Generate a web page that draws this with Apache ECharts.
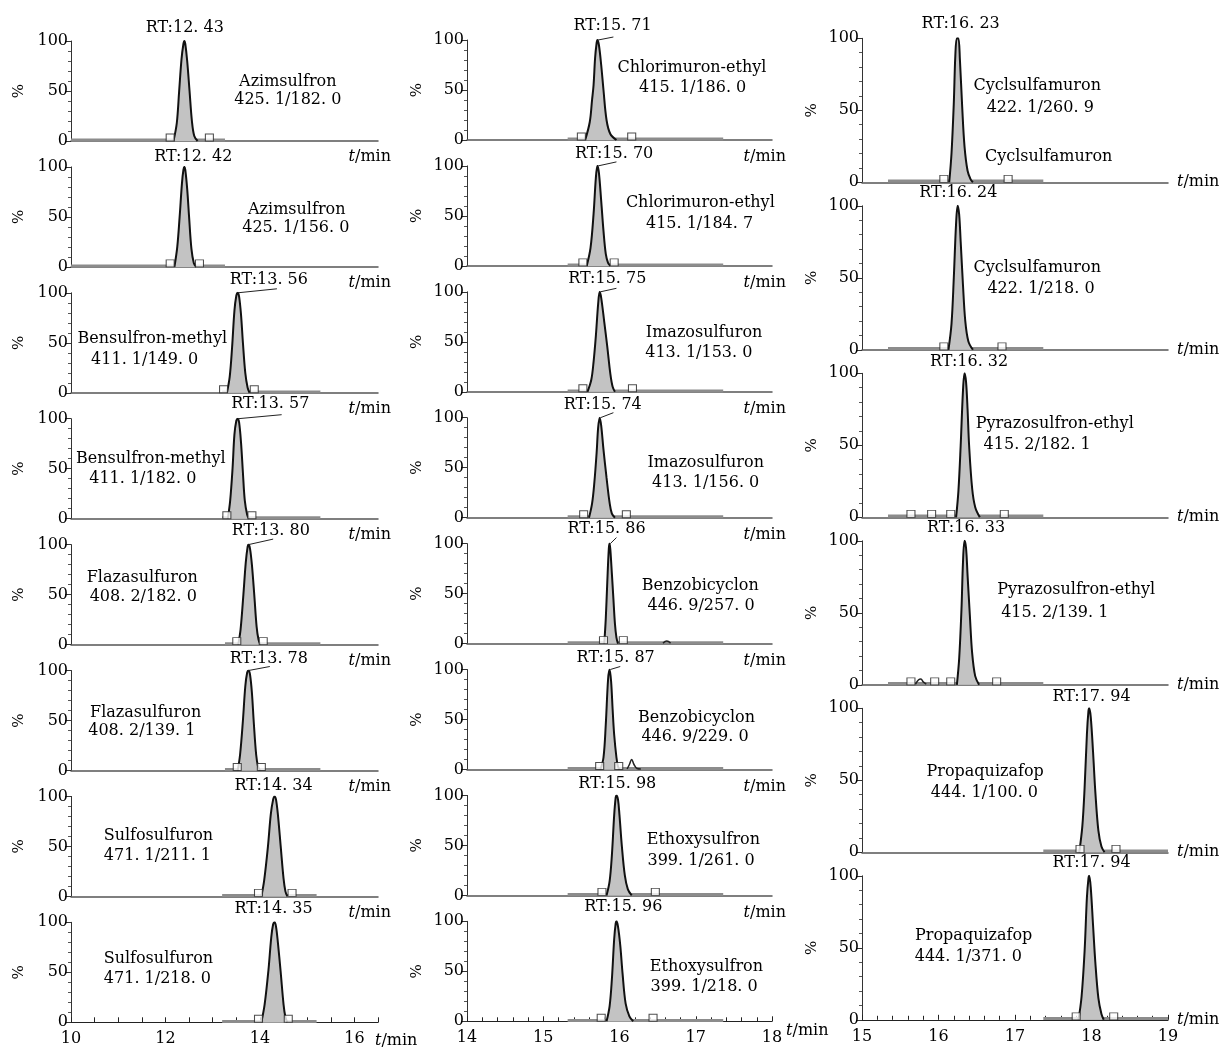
<!DOCTYPE html>
<html><head><meta charset="utf-8">
<script src="https://cdn.jsdelivr.net/npm/echarts@6/dist/echarts.min.js"></script>
<style>html,body{margin:0;padding:0;background:#fff}#c{width:1231px;height:1050px}</style>
</head><body><div id="c"></div>
<script>
// ---------------- DATA ----------------
const yTicks = [0, 50, 100];
const col1TickLabels = ['10', '12', '14', '16'];
const col2TickLabels = ['14', '15', '16', '17', '18'];
const col3TickLabels = ['15', '16', '17', '18', '19'];

const col1Names = ['Azimsulfron','Azimsulfron','Bensulfron-methyl','Bensulfron-methyl','Flazasulfuron','Flazasulfuron','Sulfosulfuron','Sulfosulfuron'];
const col1Trans = ['425. 1/182. 0','425. 1/156. 0','411. 1/149. 0','411. 1/182. 0','408. 2/182. 0','408. 2/139. 1','471. 1/211. 1','471. 1/218. 0'];
const col1RT = ['12. 43','12. 42','13. 56','13. 57','13. 80','13. 78','14. 34','14. 35'];
const col1Peaks = [
  [[12.17,0],[12.24,18],[12.29,50],[12.34,82],[12.38,97],[12.40,100],[12.42,97],[12.46,80],[12.51,50],[12.56,20],[12.61,5],[12.68,0]],
  [[12.19,0],[12.25,20],[12.30,50],[12.35,84],[12.38,97],[12.40,100],[12.42,97],[12.46,78],[12.50,50],[12.55,18],[12.60,4],[12.65,0]],
  [[13.30,0],[13.36,16],[13.41,45],[13.46,82],[13.50,97],[13.53,100],[13.56,96],[13.60,78],[13.64,50],[13.69,20],[13.74,5],[13.78,0]],
  [[13.32,0],[13.37,18],[13.42,50],[13.46,84],[13.50,98],[13.53,100],[13.56,96],[13.60,76],[13.64,46],[13.68,18],[13.73,4],[13.77,0]],
  [[13.54,0],[13.59,15],[13.65,50],[13.70,82],[13.74,98],[13.76,100],[13.79,96],[13.83,80],[13.88,50],[13.93,18],[13.97,5],[14.01,0]],
  [[13.53,0],[13.58,16],[13.64,50],[13.69,84],[13.73,98],[13.76,100],[13.79,96],[13.83,78],[13.87,48],[13.92,16],[13.96,4],[14.00,0]],
  [[14.03,0],[14.09,16],[14.17,50],[14.23,82],[14.28,97],[14.31,100],[14.34,97],[14.38,82],[14.44,50],[14.50,18],[14.54,5],[14.58,0]],
  [[14.03,0],[14.10,18],[14.18,52],[14.24,85],[14.28,98],[14.31,100],[14.34,96],[14.38,80],[14.44,50],[14.50,18],[14.54,5],[14.58,0]]
];
const col1Windows = [[10,13.26],[10,13.26],[13.2,15.28],[13.2,15.28],[13.26,15.28],[13.26,15.28],[13.2,15.2],[13.2,15.2]];
const col1Marks = [[12.10,12.93],[12.10,12.72],[13.23,13.88],[13.30,13.83],[13.51,14.07],[13.52,14.03],[13.97,14.68],[13.97,14.60]];

const col2Names = ['Chlorimuron-ethyl','Chlorimuron-ethyl','Imazosulfuron','Imazosulfuron','Benzobicyclon','Benzobicyclon','Ethoxysulfron','Ethoxysulfron'];
const col2Trans = ['415. 1/186. 0','415. 1/184. 7','413. 1/153. 0','413. 1/156. 0','446. 9/257. 0','446. 9/229. 0','399. 1/261. 0','399. 1/218. 0'];
const col2RT = ['15. 71','15. 70','15. 75','15. 74','15. 86','15. 87','15. 98','15. 96'];
const col2Peaks = [
  [[15.55,0],[15.61,18],[15.64,40],[15.66,55],[15.68,82],[15.70,97],[15.71,100],[15.73,95],[15.76,75],[15.79,50],[15.83,20],[15.88,6],[15.96,0]],
  [[15.57,0],[15.62,18],[15.66,52],[15.69,88],[15.71,100],[15.73,93],[15.76,65],[15.79,35],[15.82,12],[15.85,3],[15.88,0]],
  [[15.58,0],[15.63,12],[15.66,30],[15.69,56],[15.72,88],[15.74,100],[15.76,94],[15.80,70],[15.84,45],[15.88,18],[15.91,5],[15.94,0]],
  [[15.60,0],[15.64,14],[15.67,35],[15.70,65],[15.72,90],[15.74,100],[15.76,92],[15.79,68],[15.83,40],[15.87,15],[15.90,4],[15.94,0]],
  [[15.80,0],[15.82,25],[15.84,62],[15.86,95],[15.87,100],[15.88,94],[15.90,70],[15.92,45],[15.94,20],[15.96,6],[15.98,0]],
  [[15.75,0],[15.79,12],[15.82,45],[15.85,90],[15.87,100],[15.89,88],[15.91,60],[15.93,35],[15.96,12],[15.98,3],[16.00,0]],
  [[15.83,0],[15.87,14],[15.90,40],[15.93,80],[15.95,98],[15.96,100],[15.98,96],[16.00,80],[16.03,50],[16.07,20],[16.11,6],[16.16,0]],
  [[15.83,0],[15.87,15],[15.90,42],[15.93,82],[15.95,98],[15.96,100],[15.98,95],[16.01,76],[16.04,48],[16.08,18],[16.13,5],[16.18,0]]
];
const col2Windows = [[15.32,17.36],[15.32,17.36],[15.32,17.36],[15.32,17.36],[15.32,17.36],[15.32,17.36],[15.32,17.36],[15.32,17.36]];
const col2Marks = [[15.50,16.16],[15.52,15.93],[15.52,16.17],[15.53,16.09],[15.79,16.05],[15.74,15.99],[15.77,16.47],[15.76,16.44]];
const col2Minor = [null,null,null,null,
  [[16.57,0.5],[16.62,2.5],[16.67,0.5]],
  [[16.10,0.5],[16.13,5],[16.16,10],[16.19,5],[16.23,1],[16.28,0.5]],
  null,null];

const col3Names = ['Cyclsulfamuron','Cyclsulfamuron','Pyrazosulfron-ethyl','Pyrazosulfron-ethyl','Propaquizafop','Propaquizafop'];
const col3Trans = ['422. 1/260. 9','422. 1/218. 0','415. 2/182. 1','415. 2/139. 1','444. 1/100. 0','444. 1/371. 0'];
const col3Extra = ['Cyclsulfamuron', null, null, null, null, null];
const col3RT = ['16. 23','16. 24','16. 32','16. 33','17. 94','17. 94'];
const col3Peaks = [
  [[16.14,0],[16.17,20],[16.20,55],[16.22,88],[16.24,100],[16.26,100],[16.28,85],[16.31,52],[16.34,25],[16.38,8],[16.42,2],[16.45,0]],
  [[16.13,0],[16.17,18],[16.20,50],[16.23,88],[16.25,100],[16.27,94],[16.29,75],[16.32,45],[16.35,20],[16.39,6],[16.45,0]],
  [[16.23,0],[16.26,18],[16.29,50],[16.32,88],[16.34,100],[16.36,94],[16.38,75],[16.40,50],[16.44,20],[16.48,7],[16.54,0]],
  [[16.24,0],[16.27,18],[16.30,52],[16.32,85],[16.34,100],[16.36,95],[16.38,76],[16.41,48],[16.44,22],[16.48,6],[16.53,0]],
  [[17.84,0],[17.88,18],[17.91,45],[17.94,82],[17.96,98],[17.97,100],[17.99,94],[18.02,70],[18.05,42],[18.09,15],[18.13,4],[18.17,0]],
  [[17.83,0],[17.87,16],[17.91,48],[17.94,85],[17.96,98],[17.97,100],[17.99,92],[18.02,66],[18.05,40],[18.09,15],[18.13,4],[18.16,0]]
];
const col3Windows = [[15.34,17.37],[15.34,17.37],[15.34,17.37],[15.34,17.37],[17.37,19.0],[17.37,19.0]];
const col3Marks = [[16.07,16.91],[16.07,16.83],[15.64,15.91,16.16,16.86],[15.64,15.95,16.16,16.76],[17.85,18.32],[17.80,18.29]];
const col3Minor = [null,null,null,[[15.70,0.5],[15.74,3.5],[15.77,4],[15.80,2],[15.84,0.5]],null,null];

// ---------------- ANNOTATION LAYOUT (data coords) ----------------
const col1RTPos = [[12.41,113],[12.59,110],[14.19,113],[14.22,115],[14.23,114],[14.19,112],[14.29,111],[14.29,113]];
const col1NamePos = [[14.59,59,14.59,41],[14.78,57,14.76,39],[11.72,54,11.56,33],[11.69,60,11.52,40],[11.51,67,11.53,48],[11.58,58,11.50,40],[11.85,61,11.83,41],[11.85,63,11.83,43]];
const col1Leaders = [null,null,[13.53,100,14.36,104],[13.54,100,14.46,104],[13.76,100,14.28,105.5],[13.76,100,14.21,104],null,null];

const col2RTPos = [[15.91,114],[15.93,112],[15.84,112.5],[15.78,112.7],[15.83,115],[15.95,112],[15.97,112],[16.05,114]];
const col2NamePos = [[16.95,72,16.96,52],[17.06,63,17.05,42],[17.11,58.5,17.04,38.5],[17.13,54.4,17.13,34.4],[17.06,57.6,17.07,37.6],[17.01,51.2,16.99,32.8],[17.10,55.4,17.07,34.7],[17.14,54,17.11,34]];
const col2Leaders = [[15.72,100,15.92,103],[15.72,100,15.96,104],[15.75,100,15.96,103.5],[15.75,100,15.92,105],[15.88,100,15.96,106],[15.88,100,16.01,103],null,null];

const col3RTPos = [[16.29,110],[16.26,109],[16.40,108],[16.36,109],[18.00,108],[18.00,109]];
const col3NamePos = [[17.29,67,17.33,52],[17.29,57,17.34,42],[17.52,65,17.29,50],[17.80,66,17.52,50],[16.61,56,16.60,41],[16.46,58,16.39,44]];
const col3ExtraPos = [[17.44,18],null,null,null,null,null];

// ---------------- BUILD ----------------
const FONT = '"DejaVu Serif","Liberation Serif",serif';
const FS = 16;
const cols = [
  {left:71, width:307, top0:41, pitch:125.9, height:100, xmin:10, xmax:16.5, n:8, names:col1Names, trans:col1Trans, rt:col1RT, peaks:col1Peaks, win:col1Windows, marks:col1Marks, minor:null, extra:null, rtPos:col1RTPos, namePos:col1NamePos, leaders:col1Leaders, ticks:col1TickLabels, sqY:3.5, yNameGap:44},
  {left:467, width:305, top0:40, pitch:125.9, height:100, xmin:14, xmax:18, n:8, names:col2Names, trans:col2Trans, rt:col2RT, peaks:col2Peaks, win:col2Windows, marks:col2Marks, minor:col2Minor, extra:null, rtPos:col2RTPos, namePos:col2NamePos, leaders:col2Leaders, ticks:col2TickLabels, sqY:3.5, yNameGap:42},
  {left:862, width:306, top0:38.3, pitch:167.5, height:144, xmin:15, xmax:19, n:6, names:col3Names, trans:col3Trans, rt:col3RT, peaks:col3Peaks, win:col3Windows, marks:col3Marks, minor:col3Minor, extra:col3Extra, rtPos:col3RTPos, namePos:col3NamePos, leaders:null, ticks:col3TickLabels, sqY:2.4, yNameGap:42}
];

const grids = [], xAxes = [], yAxes = [], series = [];
const TXT = '#000';
const richT = { i: { fontStyle: 'italic', fontFamily: FONT, fontSize: FS, color: TXT } };

cols.forEach((c, ci) => {
  for (let i = 0; i < c.n; i++) {
    const gi = grids.length;
    const bottom = (i === c.n - 1);
    grids.push({ left: c.left, top: c.top0 + c.pitch * i, width: c.width, height: c.height });
    let nameStyle;
    if (ci === 0) nameStyle = bottom ? {align:'left', verticalAlign:'middle', padding:[38,0,0,0]} : {align:'right', verticalAlign:'middle', padding:[32,0,0,0]};
    else if (ci === 1) nameStyle = bottom ? {align:'left', verticalAlign:'middle', padding:[20,0,0,0]} : {align:'right', verticalAlign:'middle', padding:[34,0,0,0]};
    else nameStyle = {align:'left', verticalAlign:'middle', padding:[0,0,0,0]};
    let gap = 9;
    if (ci === 0) gap = bottom ? -3 : 13;
    if (ci === 1) gap = bottom ? 8 : 14;
    const xa = {
      gridIndex: gi, type: 'value', min: c.xmin, max: c.xmax,
      name: '{i|t}/min', nameLocation: 'end', nameGap: gap,
      nameTextStyle: Object.assign({ fontFamily: FONT, fontSize: FS, color: TXT, rich: richT }, nameStyle),
      axisLine: { show: true, onZero: false, lineStyle: { color: bottom ? '#222' : '#555', width: bottom ? 1.2 : 1.5 } },
      splitLine: { show: false },
      axisTick: { show: bottom, inside: true, length: 5, lineStyle: { color: '#222' } },
      axisLabel: { show: bottom, fontFamily: FONT, fontSize: FS, color: TXT, margin: 9 },
      minorTick: { show: false }
    };
    if (bottom) {
      if (ci === 0) {
        xa.interval = 0.5;
      } else {
        xa.interval = 1;
        xa.minorTick = { show: true, splitNumber: 5, length: 4, lineStyle: { color: '#222' } };
      }
      xa.axisLabel.formatter = v => (c.ticks.indexOf(String(v)) >= 0 ? String(v) : '');
      xa.axisLabel.showMaxLabel = true;
    }
    xAxes.push(xa);
    yAxes.push({
      gridIndex: gi, type: 'value', min: yTicks[0], max: yTicks[2], interval: yTicks[1] - yTicks[0],
      name: '%', nameLocation: 'middle', nameGap: c.yNameGap, nameRotate: 90,
      nameTextStyle: { fontFamily: FONT, fontSize: 15, color: TXT },
      axisLine: { show: true, lineStyle: { color: '#333', width: 1 } },
      axisTick: { show: true, length: 6, lineStyle: { color: '#333' } },
      minorTick: { show: true, splitNumber: 5, length: 3, lineStyle: { color: '#555' } },
      splitLine: { show: false },
      axisLabel: { fontFamily: FONT, fontSize: FS, color: TXT, margin: 3 }
    });
    series.push({ type: 'line', xAxisIndex: gi, yAxisIndex: gi, data: [[c.win[i][0], 0.9], [c.win[i][1], 0.9]],
      symbol: 'none', silent: true, lineStyle: { color: '#8c8c8c', width: 3 }, z: 1, animation: false });
    series.push({ type: 'line', xAxisIndex: gi, yAxisIndex: gi, data: c.peaks[i], smooth: 0.35,
      symbol: 'none', silent: true, lineStyle: { color: '#111', width: 2 },
      areaStyle: { color: '#c3c3c3', opacity: 1 }, z: 2, animation: false });
    if (c.minor && c.minor[i]) {
      series.push({ type: 'line', xAxisIndex: gi, yAxisIndex: gi, data: c.minor[i], smooth: 0.4,
        symbol: 'none', silent: true, lineStyle: { color: '#222', width: 1.5 }, z: 3, animation: false });
    }
    series.push({ type: 'scatter', xAxisIndex: gi, yAxisIndex: gi, data: c.marks[i].map(t => [t, c.sqY]),
      symbol: 'rect', symbolSize: [8, 7], silent: true,
      itemStyle: { color: '#fff', borderColor: '#222', borderWidth: 1 }, z: 4, animation: false });
    if (c.leaders && c.leaders[i]) {
      const L = c.leaders[i];
      series.push({ type: 'line', xAxisIndex: gi, yAxisIndex: gi, data: [[L[0], L[1]], [L[2], L[3]]], clip: false,
        symbol: 'none', silent: true, lineStyle: { color: '#222', width: 1 }, z: 5, animation: false });
    }
    const txt = [];
    txt.push([c.rtPos[i][0], c.rtPos[i][1], 'RT:' + c.rt[i]]);
    const np = c.namePos[i];
    txt.push([np[0], np[1], c.names[i]]);
    txt.push([np[2], np[3], c.trans[i]]);
    if (c.extra && c.extra[i]) txt.push([col3ExtraPos[i][0], col3ExtraPos[i][1], c.extra[i]]);
    series.push({ type: 'scatter', xAxisIndex: gi, yAxisIndex: gi, data: txt, symbolSize: 0, clip: false, silent: true,
      itemStyle: { color: '#000', opacity: 0 },
      label: { show: true, position: [0, 0], align: 'center', verticalAlign: 'middle',
        formatter: p => p.data[2], fontFamily: FONT, fontSize: FS, color: TXT, textBorderWidth: 0, opacity: 1 },
      z: 6, animation: false });
  }
});

const chart = echarts.init(document.getElementById('c'), null, { renderer: 'canvas' });
chart.setOption({ backgroundColor: '#fff', animation: false, grid: grids, xAxis: xAxes, yAxis: yAxes, series: series });
</script></body></html>
